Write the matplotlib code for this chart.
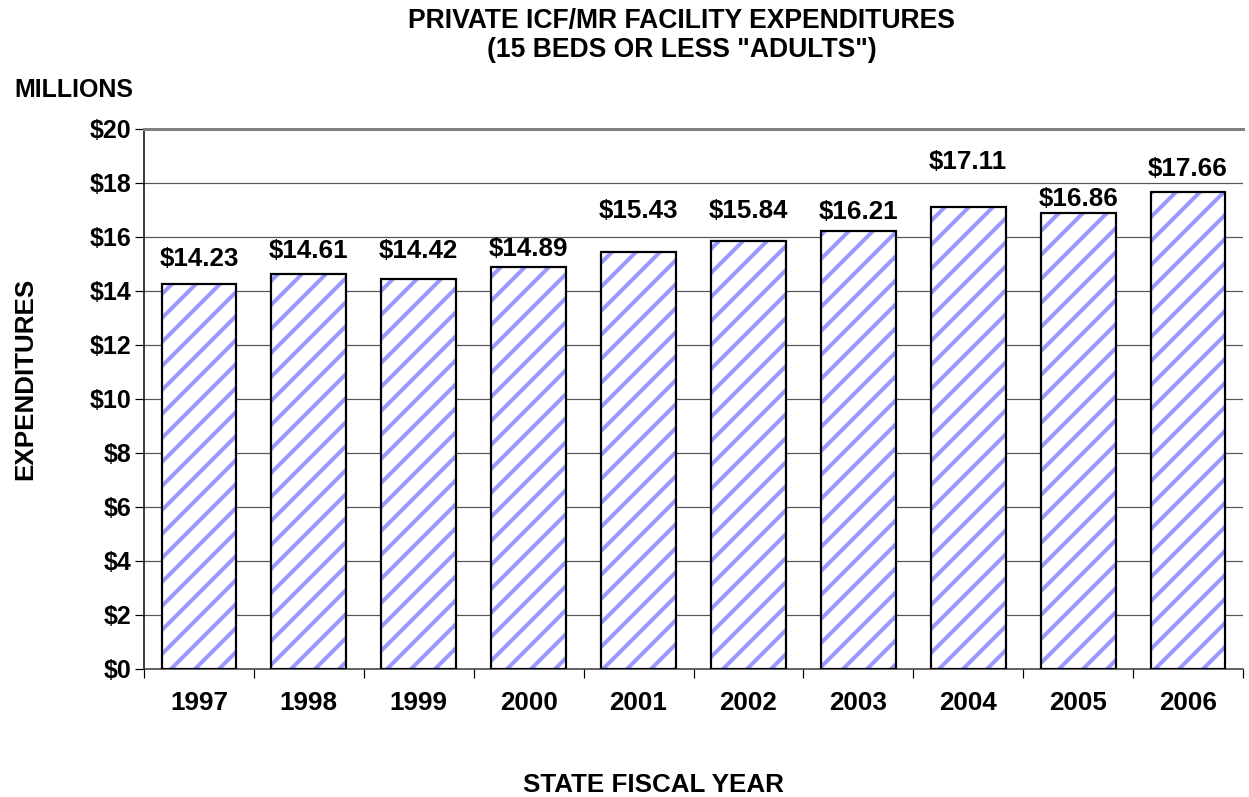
import matplotlib.pyplot as plt
import numpy as np

plt.rcParams['font.family'] = ['Liberation Sans', 'DejaVu Sans']
plt.rcParams['font.weight'] = 'bold'
plt.rcParams['hatch.linewidth'] = 4.0

# data
years = ['1997', '1998', '1999', '2000', '2001', '2002', '2003', '2004', '2005', '2006']
spend = [14.23, 14.61, 14.42, 14.89, 15.43, 15.84, 16.21, 17.11, 16.86, 17.66]
# where the value labels sit (hand placed in the original)
label_y = [15.17, 15.47, 15.47, 15.54, 16.95, 16.95, 16.91, 18.77, 17.39, 18.51]

DPI = 72
fig = plt.figure(figsize=(1249 / DPI, 797 / DPI), dpi=DPI)
ax = fig.add_axes([144 / 1249, 1 - 668.7 / 797, 1099 / 1249, 540 / 797])

x = np.arange(len(years))
ax.set_axisbelow(True)
ax.yaxis.grid(True, color='#555555', linewidth=1.2)
# hatch fill first, then the black outline on top
ax.bar(x, spend, width=0.68, color='white', edgecolor='#9999FF', linewidth=0,
       hatch='/', zorder=3)
ax.bar(x, spend, width=0.68, fill=False, edgecolor='black', linewidth=2.2,
       zorder=3.5)

for xi, v, ly in zip(x, spend, label_y):
    ax.text(xi, ly, '${:.2f}'.format(v), ha='center', va='center',
            fontsize=26, fontweight='bold', zorder=4)

ax.set_xlim(-0.5, len(years) - 0.5)
ax.set_ylim(0, 20)
ax.set_yticks(np.arange(0, 21, 2))
ax.set_yticklabels(['${}'.format(t) for t in range(0, 21, 2)], fontsize=25)
ax.set_xticks(x)
ax.set_xticklabels(years, fontsize=26)
ax.set_xticks(np.arange(-0.5, len(years)), minor=True)
ax.tick_params(axis='x', which='major', length=0, pad=22)
ax.tick_params(axis='x', which='minor', length=9, width=1.2, direction='out')
ax.tick_params(axis='y', length=9, width=1.2, direction='out', pad=4)

ax.spines['right'].set_visible(False)
ax.spines['top'].set_color('#808080')
ax.spines['top'].set_linewidth(3)
ax.spines['left'].set_linewidth(1.5)
ax.spines['bottom'].set_linewidth(1.5)
ax.spines['bottom'].set_color('#333333')

fig.text(681 / 1249, 1 - 21 / 797, 'PRIVATE ICF/MR FACILITY EXPENDITURES',
         ha='center', va='center', fontsize=26.5, fontweight='bold')
fig.text(682 / 1249, 1 - 50 / 797, '(15 BEDS OR LESS "ADULTS")',
         ha='center', va='center', fontsize=26.5, fontweight='bold')
fig.text(14 / 1249, 1 - 90 / 797, 'MILLIONS', ha='left', va='center',
         fontsize=25, fontweight='bold')
fig.text(25 / 1249, 1 - 379 / 797, 'EXPENDITURES', ha='center', va='center',
         rotation=90, fontsize=26, fontweight='bold')
fig.text(523 / 1249, 1 - 785 / 797, 'STATE FISCAL YEAR', ha='left',
         va='center', fontsize=26, fontweight='bold')

fig.savefig('out.png', dpi=DPI)
